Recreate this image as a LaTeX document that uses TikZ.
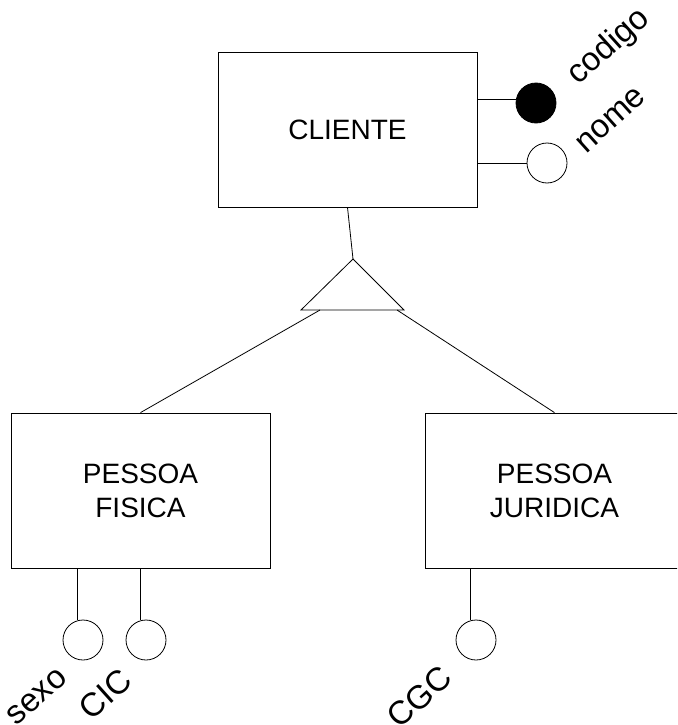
\documentclass[tikz,border=0pt]{standalone}
\usepackage{fontspec}
\setmainfont{Liberation Sans}
\begin{document}
\begin{tikzpicture}[x=1pt,y=-1pt,line width=0.8pt,
    entity/.style={draw,rectangle,minimum width=259pt,minimum height=155pt,align=center,font=\fontsize{28}{34}\selectfont},
    attr/.style={draw,circle,minimum size=40pt,inner sep=0pt},
    keyattr/.style={attr,fill=black},
    attrname/.style={rotate=42,inner sep=0pt,font=\fontsize{33}{33}\selectfont}]
    \useasboundingbox (0,0) rectangle (677,725);
    \clip (0,0) rectangle (677,725);

    \node (cliente)[entity] at (347.5,129.5) {CLIENTE};
    \node (pf)[entity] at (140.5,490.5) {PESSOA\\FISICA};
    \node (pj)[entity] at (554.5,490.5) {PESSOA\\JURIDICA};

    % especializacao
    \coordinate (isa) at (353,259);
    \coordinate (isaL) at (301,310);
    \coordinate (isaR) at (404,310);
    \coordinate (isaPF) at (320,310);
    \coordinate (isaPJ) at (397,310);
    \draw (isa) -- (isaL) -- (isaR) -- cycle;
    \draw (cliente.south) -- (isa);
    \draw (isaPF) -- (pf.north);
    \draw (isaPJ) -- (pj.north);

    % atributos
    \node (codigo)[keyattr] at (536,103) {};
    \node (nome)[attr] at (547,163) {};
    \node (sexo)[attr] at (83,640) {};
    \node (cic)[attr] at (146,640) {};
    \node (cgc)[attr] at (476,640) {};
    \draw (codigo.170 -| cliente.east) -- (codigo.170);
    \draw (nome.west -| cliente.east) -- (nome.west);
    \draw (sexo.105 |- pf.south) -- (sexo.105);
    \draw (cic.105 |- pf.south) -- (cic.105);
    \draw (cgc.105 |- pj.south) -- (cgc.105);

    \node (codigoname)[attrname] at (609,47) {codigo};
    \node (nomename)[attrname] at (611,120) {nome};
    \node (sexoname)[attrname] at (37,697) {sexo};
    \node (cicname)[attrname] at (105,694) {CIC};
    \node (cgcname)[attrname] at (419,697) {CGC};
\end{tikzpicture}
\end{document}
